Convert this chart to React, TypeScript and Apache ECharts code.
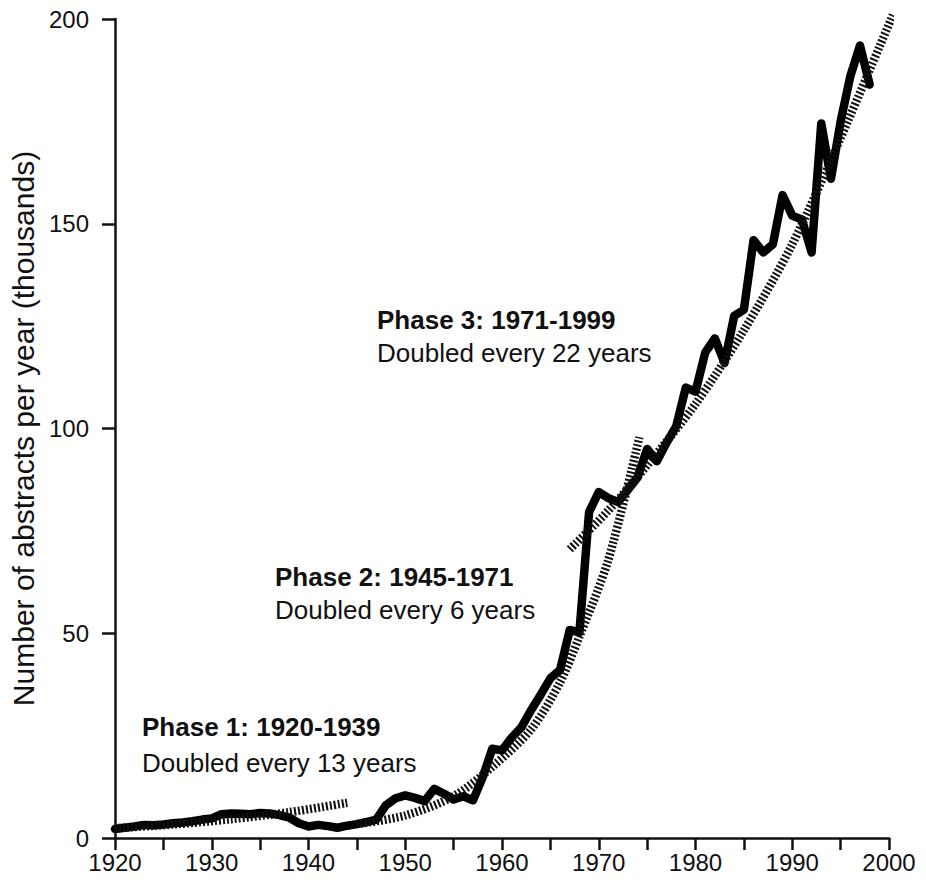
import React, { useEffect, useRef } from "react";
import * as echarts from "echarts";

const years: number[] = [
  1920, 1921, 1922, 1923, 1924, 1925, 1926, 1927, 1928, 1929,
  1930, 1931, 1932, 1933, 1934, 1935, 1936, 1937, 1938, 1939,
  1940, 1941, 1942, 1943, 1944, 1945, 1946, 1947, 1948, 1949,
  1950, 1951, 1952, 1953, 1954, 1955, 1956, 1957, 1958, 1959,
  1960, 1961, 1962, 1963, 1964, 1965, 1966, 1967, 1968, 1969,
  1970, 1971, 1972, 1973, 1974, 1975, 1976, 1977, 1978, 1979,
  1980, 1981, 1982, 1983, 1984, 1985, 1986, 1987, 1988, 1989,
  1990, 1991, 1992, 1993, 1994, 1995, 1996, 1997, 1998,
];

const abstracts: number[] = [
  2.2, 2.5, 2.8, 3.2, 3.1, 3.3, 3.6, 3.8, 4.1, 4.5,
  4.8, 5.8, 6.0, 5.9, 5.8, 6.1, 6.0, 5.6, 5.0, 3.6,
  2.8, 3.2, 2.9, 2.5, 3.0, 3.4, 3.9, 4.5, 8.0, 9.7,
  10.4, 9.8, 9.0, 12.0, 10.8, 9.4, 10.2, 9.2, 14.8, 21.8,
  21.4, 24.5, 27.0, 31.2, 35.0, 39.0, 41.0, 50.8, 50.2, 79.6,
  84.5, 83.0, 82.0, 85.0, 88.0, 95.0, 92.0, 96.5, 100.5, 110.0,
  109.0, 118.5, 122.0, 116.0, 127.5, 129.0, 146.0, 143.0, 145.0, 157.0,
  152.0, 151.0, 143.0, 174.5, 161.0, 175.0, 186.0, 193.5, 184.0,
];

// Fitted trend lines
const phase1TrendYears: number[] = [1920, 1926, 1932, 1938, 1944];
const phase1TrendValues: number[] = [2.4, 3.3, 4.6, 6.3, 8.6];

const phase2TrendYears: number[] = [1945, 1950, 1955, 1959, 1963, 1966, 1968, 1971, 1974.2];
const phase2TrendValues: number[] = [3.4, 5.5, 10.2, 17.4, 26.5, 38.0, 49.2, 68.0, 97.9];

const phase3TrendYears: number[] = [1967, 1971, 1975, 1980, 1985, 1990, 1995, 2000.4];
const phase3TrendValues: number[] = [70.5, 80.0, 91.0, 106.0, 124.0, 145.0, 171.0, 201.0];

const xTicks = { min: 1920, max: 2000, interval: 10 };
const yTicks = { min: 0, max: 200, interval: 50 };

const yAxisTitle = "Number of abstracts per year (thousands)";
const annotations = [
  { title: "Phase 1: 1920-1939", sub: "Doubled every 13 years" },
  { title: "Phase 2: 1945-1971", sub: "Doubled every 6 years" },
  { title: "Phase 3: 1971-1999", sub: "Doubled every 22 years" },
];

const FONT = "'Liberation Sans', Arial, Helvetica, sans-serif";

function pairs(xs: number[], ys: number[]): number[][] {
  return xs.map((x, i) => [x, ys[i]]);
}

export default function App() {
  const ref = useRef<HTMLDivElement>(null);

  useEffect(() => {
    if (!ref.current) return;
    const chart = echarts.init(ref.current, undefined, { renderer: "svg" });

    const trendStyle = {
      color: "#111",
      width: 8.5,
      type: [2, 2] as number[],
      cap: "butt" as const,
    };

    const annoPos = [
      { x: 142, y1: 727, y2: 763 },
      { x: 275, y1: 577, y2: 610 },
      { x: 377, y1: 320, y2: 353 },
    ];

    const graphics: any[] = [];
    annotations.forEach((a, i) => {
      const p = annoPos[i];
      graphics.push({
        type: "text",
        x: p.x,
        y: p.y1,
        style: {
          text: a.title,
          font: `bold 26px ${FONT}`,
          fill: "#111",
          verticalAlign: "middle",
          align: "left",
        },
      });
      graphics.push({
        type: "text",
        x: p.x,
        y: p.y2,
        style: {
          text: a.sub,
          font: `26px ${FONT}`,
          fill: "#111",
          verticalAlign: "middle",
          align: "left",
        },
      });
    });

    chart.setOption({
      animation: false,
      backgroundColor: "#fff",
      grid: { left: 115, right: 37, top: 19, bottom: 46, containLabel: false },
      xAxis: {
        type: "value",
        min: xTicks.min,
        max: xTicks.max,
        interval: xTicks.interval,
        axisLine: { show: true, lineStyle: { color: "#111", width: 2.5 } },
        axisTick: { show: true, inside: false, length: 12, lineStyle: { color: "#111", width: 2.5 } },
        minorTick: { show: true, splitNumber: 2, length: 12, lineStyle: { color: "#111", width: 2.5 } },
        splitLine: { show: false },
        axisLabel: {
          color: "#111",
          fontSize: 24,
          fontFamily: FONT,
          margin: 12,
          formatter: (v: number) => String(v),
        },
      },
      yAxis: {
        type: "value",
        min: yTicks.min,
        max: yTicks.max,
        interval: yTicks.interval,
        name: yAxisTitle,
        nameLocation: "middle",
        nameGap: 76,
        nameTextStyle: { color: "#111", fontSize: 30, fontFamily: FONT },
        axisLine: { show: true, lineStyle: { color: "#111", width: 2.5 } },
        axisTick: { show: true, inside: false, length: 13, lineStyle: { color: "#111", width: 2.5 } },
        splitLine: { show: false },
        axisLabel: {
          color: "#111",
          fontSize: 24,
          fontFamily: FONT,
          margin: 26,
        },
      },
      series: [
        {
          type: "line",
          data: pairs(years, abstracts),
          showSymbol: false,
          symbol: "none",
          clip: false,
          lineStyle: { color: "#000", width: 8.5, cap: "round", join: "round" },
          z: 3,
        },
        {
          type: "line",
          data: pairs(phase1TrendYears, phase1TrendValues),
          showSymbol: false,
          symbol: "none",
          smooth: 0.3,
          clip: false,
          lineStyle: trendStyle,
          z: 4,
        },
        {
          type: "line",
          data: pairs(phase2TrendYears, phase2TrendValues),
          showSymbol: false,
          symbol: "none",
          smooth: 0.3,
          clip: false,
          lineStyle: trendStyle,
          z: 4,
        },
        {
          type: "line",
          data: pairs(phase3TrendYears, phase3TrendValues),
          showSymbol: false,
          symbol: "none",
          smooth: 0.3,
          clip: false,
          lineStyle: trendStyle,
          z: 4,
        },
      ],
      graphic: graphics,
    });

    return () => chart.dispose();
  }, []);

  return (
    <div
      ref={ref}
      style={{ position: "fixed", left: 0, top: 0, width: 926, height: 884, background: "#fff" }}
    />
  );
}
